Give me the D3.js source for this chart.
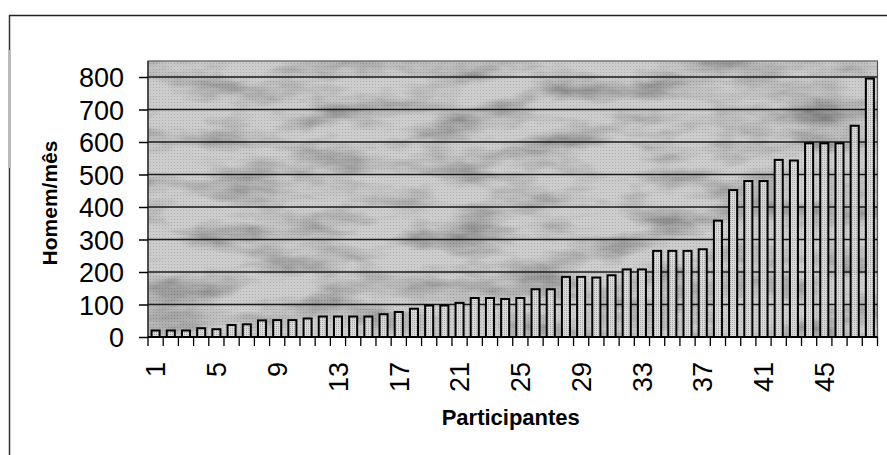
<!DOCTYPE html>
<html><head><meta charset="utf-8">
<script src="https://cdn.jsdelivr.net/npm/d3@7"></script>
<style>
html,body{margin:0;padding:0;background:#fff;}
svg{display:block;}
text{font-family:"Liberation Sans",Arial,Helvetica,sans-serif;fill:#000;}
</style></head>
<body>
<svg id="chart" width="887" height="455"></svg>
<script>
const participants = d3.range(1, 49);
const homemMes = [20,20,20,27,24,37,39,51,52,52,
                  57,63,63,63,63,70,77,87,97,97,
                  105,120,120,117,120,147,147,185,185,183,
                  190,208,208,265,265,265,270,358,452,480,
                  480,545,543,596,596,596,650,795];
const yTicks = [0,100,200,300,400,500,600,700,800];
const xTickLabels = [1,5,9,13,17,21,25,29,33,37,41,45];
const yTitle = "Homem/mês";
const xTitle = "Participantes";

const svg = d3.select("#chart");
const L = 148, R = 877.5, B = 337, T = 61;

const x = d3.scaleBand().domain(participants).range([L, R]).paddingInner(0.47).paddingOuter(0.235);
const y = d3.scaleLinear().domain([0, 800]).range([B, 77]);

// outer frame
svg.append("line").attr("x1",9).attr("x2",887).attr("y1",15.5).attr("y2",15.5).attr("stroke","#222").attr("stroke-width",1.5);
svg.append("line").attr("x1",9.5).attr("x2",9.5).attr("y1",15).attr("y2",455).attr("stroke","#333").attr("stroke-width",1.5);
svg.append("rect").attr("x",8).attr("y",50).attr("width",3).attr("height",118).attr("fill","#bbb");

// textured background
const defs = svg.append("defs");
const f = defs.append("filter").attr("id","tex").attr("x",0).attr("y",0).attr("width","100%").attr("height","100%");
f.append("feTurbulence").attr("type","fractalNoise").attr("baseFrequency","0.014 0.04").attr("numOctaves",4).attr("seed",11).attr("result","n");
f.append("feColorMatrix").attr("in","n").attr("type","matrix")
 .attr("values","0 0 0 0 0  0 0 0 0 0  0 0 0 0 0  1.6 0 0 0 -0.62").attr("result","a");
f.append("feFlood").attr("flood-color","#707070").attr("result","c");
f.append("feComposite").attr("in","c").attr("in2","a").attr("operator","in").attr("result","d");
f.append("feMerge").selectAll("feMergeNode").data(["SourceGraphic","d"]).join("feMergeNode").attr("in",d=>d);

const pat = defs.append("pattern").attr("id","dots").attr("width",3).attr("height",3).attr("patternUnits","userSpaceOnUse");
pat.append("rect").attr("width",1).attr("height",1).attr("fill","rgba(0,0,0,0.15)");
const pat2 = defs.append("pattern").attr("id","dots2").attr("width",2).attr("height",2).attr("patternUnits","userSpaceOnUse");
pat2.append("rect").attr("width",2).attr("height",2).attr("fill","#dcdcdc");
pat2.append("rect").attr("width",1).attr("height",1).attr("fill","#a8a8a8");

svg.append("rect").attr("x",L).attr("y",T).attr("width",R-L).attr("height",B-T).attr("fill","#cdcdcd").attr("filter","url(#tex)");
svg.append("rect").attr("x",L).attr("y",T).attr("width",R-L).attr("height",B-T).attr("fill","url(#dots)");
svg.append("rect").attr("x",L).attr("y",T).attr("width",R-L).attr("height",B-T).attr("fill","none").attr("stroke","#555").attr("stroke-width",1.2);

// gridlines
svg.append("g").selectAll("line").data(yTicks.filter(d=>d>0)).join("line")
  .attr("x1",L).attr("x2",R).attr("y1",d=>y(d)).attr("y2",d=>y(d))
  .attr("stroke","#1a1a1a").attr("stroke-width",1.4);

// bars
svg.append("g").selectAll("rect").data(homemMes).join("rect")
  .attr("x",(d,i)=>x(participants[i]))
  .attr("width",x.bandwidth())
  .attr("y",d=>y(d))
  .attr("height",d=>y(0)-y(d))
  .attr("fill","url(#dots2)").attr("fill-opacity",0.9)
  .attr("stroke","#000").attr("stroke-width",2);

// y axis
const yAxis = d3.axisLeft(y).tickValues(yTicks).tickSize(9).tickPadding(15);
const gy = svg.append("g").attr("transform",`translate(${L},0)`).call(yAxis);
gy.select(".domain").attr("stroke","#222").attr("stroke-width",1.2).attr("d",`M0,${T}V${B}`);
gy.selectAll(".tick line").attr("stroke","#000").attr("stroke-width",1.5);
gy.selectAll(".tick text").style("font-size","27px").attr("dy","0.36em").attr("fill","#000");

// x axis baseline and boundary ticks
svg.append("line").attr("x1",L).attr("x2",R).attr("y1",B).attr("y2",B).attr("stroke","#000").attr("stroke-width",2);
const step = x.step();
svg.append("g").selectAll("line").data(participants.concat(["end"])).join("line")
  .attr("x1",d=> d==="end" ? R : x(d) - (step - x.bandwidth())/2)
  .attr("x2",d=> d==="end" ? R : x(d) - (step - x.bandwidth())/2)
  .attr("y1",B).attr("y2",B+9).attr("stroke","#000").attr("stroke-width",1.3);

// x tick labels
svg.append("g").selectAll("text").data(xTickLabels).join("text")
  .attr("transform",d=>`translate(${x(d)+x.bandwidth()/2},362) rotate(-90)`)
  .attr("text-anchor","end").attr("dy","0.36em")
  .style("font-size","27px").text(d=>d);

// titles
svg.append("text").attr("x",(L+R)/2 - 2).attr("y",425).attr("text-anchor","middle")
  .style("font-size","22px").style("font-weight","bold").text(xTitle);
svg.append("text").attr("transform",`translate(57,${(T+B)/2+4}) rotate(-90)`).attr("text-anchor","middle")
  .style("font-size","21px").style("font-weight","bold").text(yTitle);
</script>
</body></html>
